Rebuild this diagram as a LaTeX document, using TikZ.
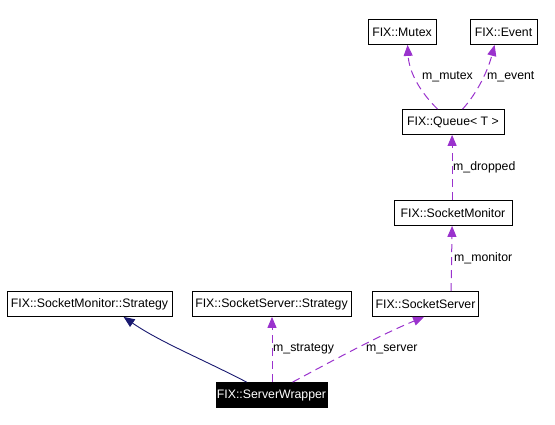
\documentclass[tikz,border=0pt]{standalone}
\usepackage{fontspec}
\setmainfont{Liberation Sans}
\usetikzlibrary{arrows.meta,calc}
\definecolor{edgepurple}{HTML}{9A32CD}
\definecolor{edgenavy}{HTML}{191970}
\tikzset{
  cls/.style={draw=black, line width=0.8pt, minimum height=25pt, inner sep=0pt, font=\fontsize{12.3}{14}\selectfont, anchor=center},
  usage/.style={color=edgepurple, line width=1pt, dash pattern=on 8pt off 5pt, -{Triangle[width=9pt,length=11pt]}},
  inherit/.style={color=edgenavy, line width=0.9pt, -{Triangle[width=9pt,length=11pt]}},
  lbl/.style={font=\fontsize{12.3}{14}\selectfont, inner sep=0pt, anchor=west}
}
\begin{document}
\begin{tikzpicture}[x=1pt,y=-1pt]
\useasboundingbox (0,0) rectangle (555,424);
\node[cls, minimum width=68pt] (mutex) at (402,32) {FIX::Mutex};
\node[cls, minimum width=67pt] (event) at (503.5,32) {FIX::Event};
\node[cls, minimum width=102pt] (queue) at (453,122) {FIX::Queue< T >};
\node[cls, minimum width=118pt] (smon) at (453,213) {FIX::SocketMonitor};
\node[cls, minimum width=165pt] (smstrat) at (89.5,304) {FIX::SocketMonitor::Strategy};
\node[cls, minimum width=159pt] (ssstrat) at (271.5,304) {FIX::SocketServer::Strategy};
\node[cls, minimum width=106pt] (sserver) at (425.5,304) {FIX::SocketServer};
\node[cls, minimum width=111pt, fill=black, text=white] (sw) at (271.5,395) {FIX::ServerWrapper};

% inheritance
\draw[inherit] ($(sw.north west)+(31,0)$) .. controls (200,358) and (160,342) .. ($(smstrat.south west)+(117,0)$);
% usage
\draw[usage] ($(sw.north)+(0.5,0)$) -- ($(ssstrat.south)+(0.5,0)$);
\node[lbl] (lstrat) at (273,349) {m\_strategy};
\draw[usage] ($(sw.north west)+(77,0)$) .. controls (330,362) and (380,335) .. ($(sserver.south west)+(52,0)$);
\node[lbl] (lserver) at (366,349) {m\_server};
\draw[usage] ($(sserver.north west)+(79,0)$) -- ($(smon.south west)+(58.5,0)$);
\node[lbl] (lmon) at (454,258) {m\_monitor};
\draw[usage] ($(smon.north west)+(58.5,0)$) -- ($(queue.south west)+(50.5,0)$);
\node[lbl] (ldrop) at (453,167) {m\_dropped};
\draw[usage] ($(queue.north west)+(36,0)$) .. controls (420,92) and (409,72) .. ($(mutex.south west)+(40,0)$);
\node[lbl] (lmutex) at (422,77) {m\_mutex};
\draw[usage] ($(queue.north west)+(61,0)$) .. controls (478,92) and (488,70) .. ($(event.south west)+(25,0)$);
\node[lbl] (levent) at (487,77) {m\_event};
\end{tikzpicture}
\end{document}
